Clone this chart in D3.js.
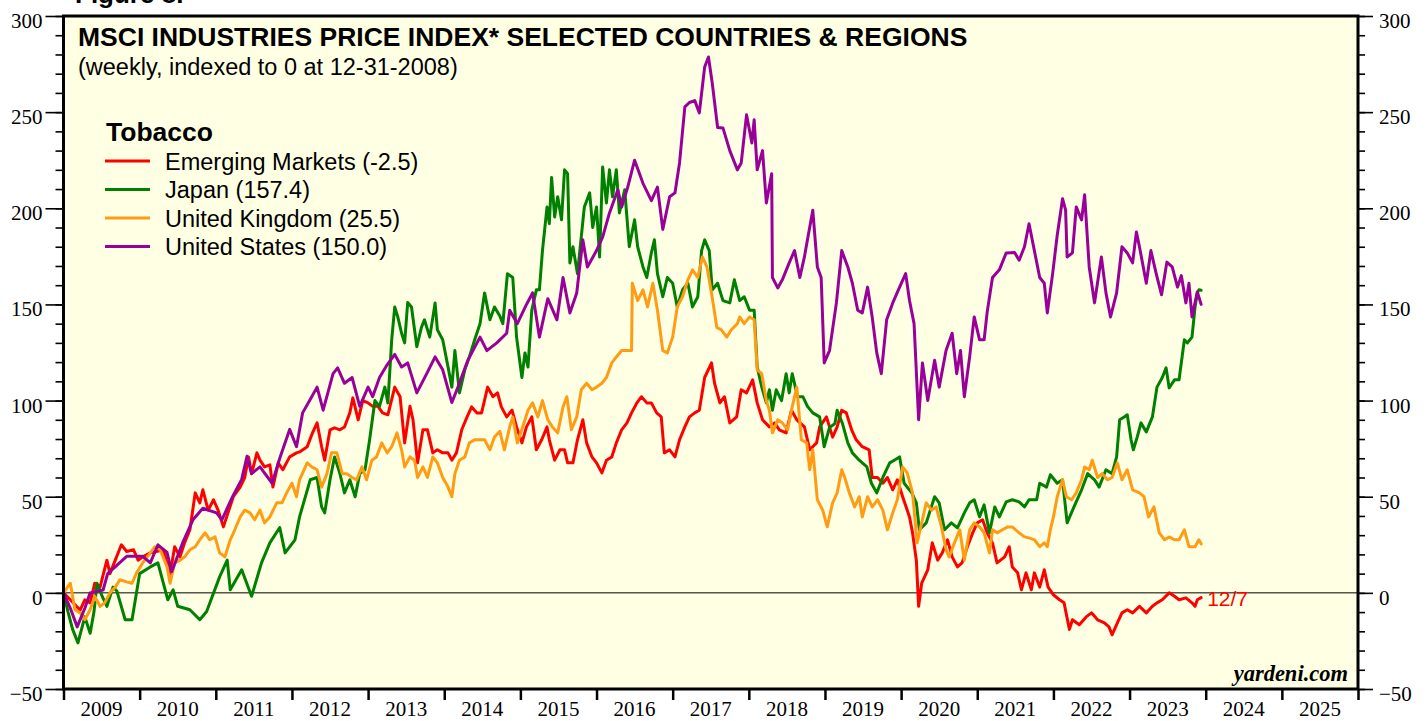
<!DOCTYPE html>
<html><head><meta charset="utf-8">
<script src="https://cdn.jsdelivr.net/npm/d3@7"></script>
<style>html,body{margin:0;padding:0;background:#fff}svg{display:block}</style>
</head><body>
<svg id="chart" width="1427" height="721"></svg>
<script>
// ---------- DATA ----------
const yearLabels = [2009,2010,2011,2012,2013,2014,2015,2016,2017,2018,2019,2020,2021,2022,2023,2024,2025];
const yMajorTicks = [-50,0,50,100,150,200,250,300];
const seriesNames = ["Emerging Markets (-2.5)","Japan (157.4)","United Kingdom (25.5)","United States (150.0)"];
const seriesColors = ["#ff0000","#008000","#ff9c14","#990099"];

const emDates = [2009.00,2009.09,2009.17,2009.22,2009.28,2009.35,2009.41,2009.48,2009.57,2009.61,2009.68,2009.76,2009.83,2009.92,2009.98,2010.04,2010.14,2010.22,2010.31,2010.40,2010.46,2010.53,2010.59,2010.66,2010.73,2010.79,2010.83,2010.90,2010.97,2011.03,2011.10,2011.16,2011.23,2011.32,2011.38,2011.43,2011.47,2011.54,2011.58,2011.64,2011.71,2011.75,2011.82,2011.88,2011.97,2012.06,2012.10,2012.20,2012.27,2012.33,2012.39,2012.43,2012.50,2012.56,2012.63,2012.69,2012.76,2012.80,2012.87,2012.93,2013.00,2013.06,2013.13,2013.19,2013.26,2013.35,2013.42,2013.48,2013.55,2013.59,2013.65,2013.72,2013.78,2013.85,2013.91,2013.98,2014.05,2014.10,2014.16,2014.23,2014.30,2014.36,2014.43,2014.49,2014.57,2014.64,2014.70,2014.75,2014.82,2014.89,2014.95,2015.02,2015.08,2015.15,2015.21,2015.28,2015.35,2015.38,2015.45,2015.52,2015.58,2015.62,2015.69,2015.75,2015.82,2015.87,2015.94,2016.00,2016.07,2016.13,2016.20,2016.26,2016.33,2016.40,2016.46,2016.53,2016.59,2016.66,2016.72,2016.79,2016.85,2016.89,2016.96,2017.03,2017.09,2017.16,2017.22,2017.29,2017.35,2017.42,2017.51,2017.55,2017.62,2017.68,2017.75,2017.84,2017.90,2017.97,2018.05,2018.11,2018.18,2018.27,2018.34,2018.40,2018.49,2018.56,2018.63,2018.73,2018.80,2018.89,2018.93,2019.02,2019.10,2019.16,2019.22,2019.28,2019.35,2019.41,2019.49,2019.58,2019.62,2019.69,2019.76,2019.82,2019.89,2019.95,2020.02,2020.11,2020.15,2020.20,2020.23,2020.27,2020.35,2020.41,2020.48,2020.54,2020.61,2020.67,2020.74,2020.80,2020.87,2020.94,2021.00,2021.07,2021.13,2021.20,2021.26,2021.36,2021.42,2021.46,2021.53,2021.58,2021.64,2021.71,2021.75,2021.82,2021.88,2021.93,2022.00,2022.08,2022.14,2022.21,2022.25,2022.34,2022.43,2022.50,2022.58,2022.67,2022.73,2022.77,2022.84,2022.90,2022.97,2023.04,2023.13,2023.22,2023.30,2023.36,2023.43,2023.52,2023.59,2023.65,2023.74,2023.82,2023.86,2023.89,2023.94];
const emValues = [0,-3.6,-7,-8.8,-3.6,-5.2,5,3,17,10,17,25,21.5,22.4,17,18.7,20.8,21.5,22.4,10,24,18.7,26,32.8,52,46.8,53.6,43,48.4,43,34.3,41.6,50,55,60,70.7,62,72.8,69,65.5,66.6,55,67.6,64,70.7,72.8,73.3,76,83.2,88.4,76,69,84.8,85.8,84.8,86.3,93.6,101.4,90,100,98.8,97,97,93.6,92.6,107,102,78,97,90,67.6,84.8,84.8,72.8,74.4,72.8,72.8,69,72.8,84.8,91.5,96.7,93.6,93.6,107,102,104,96.7,91.5,95,86.3,78,86.3,91.5,74.4,79.6,86.3,79.6,69,74.4,74.4,67.6,67.6,79.6,90,78,70.7,67.6,62.4,69,70.7,78,84.8,88.4,93.6,98.8,102,98.8,98.8,93.6,91.5,72.8,74.4,70.7,79.6,86.3,91.5,93.6,95,112,119.6,109,98.8,102,88.4,91.5,105.6,104,110.8,98.8,90,86.3,88.4,84.8,83.2,95,90,86.3,74.4,78,86.3,91.5,81,86.3,95,93.6,84.8,79.6,76,74.4,60,60,57,60,53.6,58.8,50,39.5,31.2,17,-7,5,12,26,17,20.8,27.6,18.7,13.5,15.6,24,31.2,36.4,38,31.2,26,15.6,18.7,24,13.5,10.4,1.6,10.4,1.6,10.4,3,12,3,-1,-3.6,-5.2,-19,-14,-16.6,-12.5,-10.4,-14,-15.6,-17.7,-21.8,-15.6,-10.4,-8.8,-10.4,-7,-10.4,-7,-5.2,-3.6,0,-1.8,-3.6,-2.6,-5.2,-7,-3.6,-2.5];

const jpDates = [2009.00,2009.06,2009.12,2009.19,2009.28,2009.35,2009.40,2009.44,2009.51,2009.57,2009.65,2009.70,2009.81,2009.90,2010.00,2010.14,2010.24,2010.37,2010.44,2010.50,2010.66,2010.79,2010.88,2011.05,2011.15,2011.19,2011.34,2011.47,2011.60,2011.71,2011.84,2011.91,2012.04,2012.10,2012.24,2012.33,2012.39,2012.43,2012.50,2012.56,2012.63,2012.69,2012.76,2012.83,2012.89,2012.96,2013.02,2013.09,2013.15,2013.22,2013.26,2013.31,2013.35,2013.39,2013.44,2013.48,2013.52,2013.57,2013.64,2013.70,2013.74,2013.81,2013.88,2013.91,2013.98,2014.05,2014.10,2014.14,2014.20,2014.27,2014.33,2014.40,2014.47,2014.53,2014.60,2014.66,2014.73,2014.77,2014.83,2014.90,2014.95,2015.02,2015.06,2015.10,2015.15,2015.21,2015.25,2015.29,2015.35,2015.38,2015.41,2015.45,2015.49,2015.54,2015.58,2015.62,2015.65,2015.69,2015.75,2015.84,2015.91,2015.95,2016.00,2016.04,2016.08,2016.13,2016.17,2016.21,2016.26,2016.30,2016.37,2016.43,2016.50,2016.54,2016.61,2016.66,2016.72,2016.76,2016.80,2016.87,2016.93,2017.00,2017.06,2017.13,2017.20,2017.26,2017.33,2017.38,2017.42,2017.48,2017.52,2017.59,2017.66,2017.75,2017.81,2017.88,2017.94,2018.01,2018.07,2018.11,2018.17,2018.23,2018.27,2018.31,2018.36,2018.43,2018.49,2018.53,2018.57,2018.64,2018.71,2018.77,2018.84,2018.93,2018.99,2019.06,2019.13,2019.16,2019.23,2019.30,2019.36,2019.45,2019.55,2019.61,2019.68,2019.76,2019.85,2019.91,2019.98,2020.04,2020.14,2020.20,2020.24,2020.33,2020.44,2020.50,2020.57,2020.66,2020.74,2020.83,2020.90,2020.96,2021.03,2021.09,2021.16,2021.23,2021.29,2021.38,2021.46,2021.55,2021.62,2021.68,2021.78,2021.82,2021.91,2021.96,2022.05,2022.12,2022.18,2022.27,2022.37,2022.45,2022.54,2022.60,2022.69,2022.77,2022.83,2022.87,2022.93,2022.97,2023.02,2023.05,2023.10,2023.15,2023.22,2023.30,2023.36,2023.43,2023.48,2023.52,2023.59,2023.65,2023.72,2023.76,2023.82,2023.86,2023.89,2023.91,2023.94];
const jpValues = [0,-10,-19,-26,-12.5,-21,-10,5,-2,-7,3,1,-14,-14,10,13.5,15.6,-3.6,1.6,-7,-8.8,-14,-9.7,8.3,17,1.6,12,-1.8,15.6,26,34,20.8,27.6,39.5,58.8,60,44.7,41.6,58.8,70.7,62,52,58.8,50,62,64,79.6,100,97,107,98.8,131.6,148.7,143.5,135,130,151,148.7,128,138,142,133,150.8,136.8,131.6,117.5,107,126,104,116,122.7,131.6,140,156,142,148.7,144,140,166,164,133,112,124.8,117.5,147,157.6,157.6,178,200.7,192,216,195.5,206,194,220,218,171.6,180,166,200.7,208,190,200.7,174.7,221.5,202.8,220,206,220,197.6,209.6,180,194,180,169.5,164,176.8,183.6,166,154,164,161,148.7,157.6,161,148.7,154,178,183.6,178,157.6,161,152,150.8,162.8,152,154,147,147,117.5,107,98.8,105.6,95,105.6,100,114,104,114,102,102,97,93.6,91.5,76,86,88,95,88,78,72.8,69,65.5,57,52,60,67.6,69,70.7,57,52,46.8,32.8,36.4,50,46.8,32.8,36.4,33.8,41.6,46.8,48.4,39.5,45.8,31.2,44.7,39.5,47.3,48.4,47.3,44.7,48.4,48.4,57,55,61.4,57,58.8,36.4,44.7,53.6,62,58.8,55,64,62,70.7,90,91.5,92.6,79.6,74.4,81,88.4,83.7,91.5,107,112,117,106.6,110.8,110.8,131.6,130,133,148.7,156,157.6,157.4];

const ukDates = [2009.00,2009.09,2009.15,2009.22,2009.28,2009.35,2009.41,2009.48,2009.54,2009.61,2009.68,2009.74,2009.83,2009.90,2009.96,2010.04,2010.14,2010.20,2010.27,2010.36,2010.40,2010.46,2010.53,2010.59,2010.66,2010.73,2010.79,2010.86,2010.92,2010.99,2011.05,2011.12,2011.19,2011.25,2011.32,2011.38,2011.45,2011.51,2011.58,2011.64,2011.71,2011.80,2011.87,2011.93,2012.00,2012.06,2012.10,2012.20,2012.26,2012.33,2012.39,2012.46,2012.52,2012.59,2012.66,2012.72,2012.79,2012.85,2012.92,2012.98,2013.05,2013.11,2013.18,2013.25,2013.31,2013.38,2013.44,2013.48,2013.55,2013.61,2013.65,2013.72,2013.78,2013.85,2013.91,2013.98,2014.05,2014.10,2014.14,2014.20,2014.27,2014.33,2014.40,2014.47,2014.53,2014.60,2014.66,2014.73,2014.79,2014.86,2014.90,2014.96,2015.03,2015.10,2015.16,2015.23,2015.29,2015.36,2015.42,2015.49,2015.56,2015.61,2015.67,2015.74,2015.80,2015.87,2015.94,2016.00,2016.07,2016.13,2016.20,2016.26,2016.33,2016.40,2016.46,2016.47,2016.54,2016.61,2016.67,2016.74,2016.80,2016.87,2016.93,2017.00,2017.06,2017.13,2017.20,2017.26,2017.33,2017.39,2017.45,2017.51,2017.58,2017.64,2017.71,2017.77,2017.85,2017.88,2017.94,2018.01,2018.07,2018.11,2018.17,2018.23,2018.27,2018.31,2018.38,2018.44,2018.51,2018.56,2018.63,2018.69,2018.76,2018.80,2018.84,2018.90,2018.97,2019.03,2019.10,2019.16,2019.22,2019.26,2019.32,2019.39,2019.45,2019.49,2019.56,2019.62,2019.69,2019.76,2019.82,2019.89,2019.95,2020.02,2020.08,2020.15,2020.21,2020.27,2020.33,2020.40,2020.46,2020.53,2020.59,2020.63,2020.70,2020.77,2020.83,2020.90,2020.96,2021.03,2021.09,2021.16,2021.20,2021.26,2021.33,2021.40,2021.46,2021.55,2021.62,2021.68,2021.75,2021.82,2021.88,2021.92,2021.96,2022.00,2022.05,2022.12,2022.17,2022.24,2022.30,2022.37,2022.41,2022.47,2022.51,2022.58,2022.64,2022.71,2022.77,2022.84,2022.90,2022.97,2023.04,2023.13,2023.19,2023.25,2023.32,2023.39,2023.46,2023.52,2023.59,2023.65,2023.72,2023.78,2023.86,2023.91,2023.94];
const ukValues = [0,5,-8.8,-10.4,-14,-8.8,-1.8,-7,-5.2,0,3,6.8,5.7,5,10.4,15.6,20.8,24,22.4,13.5,5,15.6,17,18.7,22.4,24,27.6,31.2,27.6,29.1,20.8,18.7,27.6,32.8,39.5,43,41.6,38,43,36.4,39.5,46.8,46.8,52,57,50,58.8,67.6,65.5,64,55,62,72.8,72.8,62,62,60,58.8,65.5,58.8,69,70.7,78,72.8,76,83.2,74.4,65.5,70.7,69,60,65.5,60,70.7,67.6,60,55,50,62,69,70.7,78,79.6,79.6,79.6,74.4,81,84,74.4,86.3,91.5,78,86.3,95,98.8,91.5,100,90,86.3,83.2,96.7,102,84.8,91.5,105.6,109,105.6,107,109,112,119.6,122.7,126,126,126,161,152,157.6,148.7,161,147,126,124.8,133,148.7,154,162.8,168,164,174.7,169.5,156,138,136.8,133,136.8,140,143.5,140,143.5,142,116,114,100,95,83.2,90,88.4,84.8,95,107,79.6,78,64,74.4,48.4,43,34.3,46.8,52,64,60,52,44.7,50,39.5,50,44.7,48.4,43,32.8,41.6,48.4,65.5,62.4,52,26,36.4,46.8,43,44.7,34.3,22.4,18.7,26,32.8,17,32.8,36.4,34.3,31.2,20.8,32.8,31.2,32.8,34.3,34.3,31.2,29.1,28.6,27.6,24,26,24,32.8,39.5,50,58.8,50,48.4,52,58.8,65.5,64,69,60,62,58.8,60,67.6,58.8,64,53.6,52,50,39.5,44.7,31.2,27.6,29.1,27.6,27.6,32.8,24,24,27.6,25.5];

const usDates = [2009.00,2009.09,2009.18,2009.28,2009.35,2009.52,2009.58,2009.83,2010.04,2010.14,2010.24,2010.36,2010.42,2010.57,2010.70,2010.83,2011.01,2011.08,2011.22,2011.34,2011.41,2011.47,2011.58,2011.74,2011.84,2011.97,2012.06,2012.14,2012.26,2012.33,2012.41,2012.54,2012.60,2012.69,2012.79,2012.89,2013.00,2013.06,2013.15,2013.25,2013.35,2013.44,2013.52,2013.64,2013.77,2013.88,2013.98,2014.10,2014.18,2014.31,2014.47,2014.56,2014.69,2014.82,2014.86,2014.96,2015.08,2015.16,2015.25,2015.36,2015.48,2015.56,2015.65,2015.74,2015.82,2015.88,2016.00,2016.08,2016.17,2016.28,2016.33,2016.41,2016.50,2016.61,2016.72,2016.80,2016.87,2016.96,2017.03,2017.09,2017.16,2017.22,2017.29,2017.35,2017.42,2017.47,2017.52,2017.59,2017.66,2017.75,2017.85,2017.90,2017.97,2018.04,2018.07,2018.11,2018.18,2018.23,2018.30,2018.31,2018.38,2018.44,2018.53,2018.60,2018.67,2018.73,2018.77,2018.84,2018.90,2018.95,2018.99,2019.06,2019.15,2019.22,2019.30,2019.36,2019.43,2019.49,2019.56,2019.62,2019.68,2019.74,2019.81,2019.89,2019.98,2020.06,2020.11,2020.17,2020.23,2020.28,2020.35,2020.44,2020.50,2020.59,2020.67,2020.73,2020.78,2020.83,2020.90,2020.96,2021.03,2021.09,2021.13,2021.20,2021.29,2021.38,2021.49,2021.55,2021.62,2021.68,2021.75,2021.82,2021.88,2021.92,2021.99,2022.05,2022.12,2022.16,2022.18,2022.25,2022.30,2022.37,2022.41,2022.47,2022.54,2022.63,2022.69,2022.75,2022.83,2022.90,2022.97,2023.04,2023.09,2023.13,2023.22,2023.28,2023.35,2023.42,2023.49,2023.56,2023.63,2023.68,2023.74,2023.78,2023.82,2023.89,2023.94];
const usValues = [0,-8,-17.7,-8,0,1.5,10,19,19,15.6,25,21,11,26.5,38,44,41.6,38,50,59,71,62,65.5,57,70,85,76,93.6,102,107,95,114,117,109,112,97,107,102,112,118.6,124,117.5,119.6,104,114,122.7,116,99,107,121,133,126,130,135,147,140,150,156,133,153,142,164,145.6,156,183.6,169.5,178,185,197.6,209.6,200.7,211,225,213,204,211,189,206,208,223.6,252.7,255,256,249.6,273.5,278.7,265,242,241.8,230,220,223.6,248.6,234,246,220,230,202.8,218,164,158.6,162.8,171.6,178,164,174.7,183.6,199,169.5,164,119.6,126,150.8,178,169.5,161,147,145.6,159,143.5,124.8,114,142,150.8,159,166,152,140,90,119.6,100,121,107,126,135,114,126,102,122.7,143.5,131.6,131.6,146,164,168,176.8,177,173,180,192,178,164,161,145.6,166,186,205,199,174.7,176.8,200.7,194,207,169.5,150.8,174.7,156,143.5,156,180,176.8,171.6,187.7,180,161,178,166,155,172,169.5,159,165,150.8,161,143.5,156.5,150];

const lastDateLabel = "12/7";

// ---------- CHART ----------
const svg = d3.select("#chart");
const L = 63.5, R = 1358, T = 16, B = 689;
const x = d3.scaleLinear().domain([2009, 2026]).range([L, R]);
const y = d3.scaleLinear().domain([-50, 300]).range([B, T]);

const SANS = "'Liberation Sans', Arial, sans-serif";
const SERIF = "'Liberation Serif', 'Times New Roman', serif";

// plot background
svg.append("rect").attr("x", L).attr("y", T).attr("width", R - L).attr("height", B - T).attr("fill", "#ffffe3");

svg.append("defs").append("clipPath").attr("id", "clip")
  .append("rect").attr("x", L).attr("y", T).attr("width", R - L).attr("height", B - T);

// zero line
svg.append("line").attr("x1", L).attr("x2", R).attr("y1", y(0)).attr("y2", y(0))
  .attr("stroke", "#000").attr("stroke-width", 1);

// series
const allSeries = [
  {dates: emDates, values: emValues},
  {dates: jpDates, values: jpValues},
  {dates: ukDates, values: ukValues},
  {dates: usDates, values: usValues}
];
const line = d3.line().x(d => x(d[0])).y(d => y(d[1])).curve(d3.curveLinear);
const g = svg.append("g").attr("clip-path", "url(#clip)");
allSeries.forEach((s, i) => {
  const pts = s.dates.map((d, k) => [d, s.values[k]]);
  g.append("path").datum(pts).attr("d", line)
    .attr("fill", "none").attr("stroke", seriesColors[i])
    .attr("stroke-width", 3).attr("stroke-linejoin", "round").attr("stroke-linecap", "round");
});

// end label
svg.append("text").attr("x", x(emDates[emDates.length - 1]) + 6).attr("y", y(emValues[emValues.length - 1]) + 8)
  .attr("font-family", SANS).attr("font-size", 21).attr("fill", "#ff0000").text(lastDateLabel);

// border
svg.append("rect").attr("x", L).attr("y", T).attr("width", R - L).attr("height", B - T)
  .attr("fill", "none").attr("stroke", "#000").attr("stroke-width", 3);

// y axes
const minorVals = d3.range(-50, 301, 10);
function styleAxis(sel) {
  sel.select(".domain").remove();
  sel.selectAll("line").attr("stroke", "#000").attr("stroke-width", 1.6);
  sel.selectAll("text").attr("font-family", SERIF).attr("font-size", 21).attr("fill", "#000");
}
svg.append("g").attr("transform", `translate(${L},0)`)
  .call(d3.axisLeft(y).tickValues(minorVals).tickSize(8).tickFormat("")).call(styleAxis);
svg.append("g").attr("transform", `translate(${L},0)`)
  .call(d3.axisLeft(y).tickValues(yMajorTicks).tickSize(18).tickPadding(3)).call(styleAxis)
  .selectAll("text").attr("dy", "0.55em");
svg.append("g").attr("transform", `translate(${R},0)`)
  .call(d3.axisRight(y).tickValues(minorVals).tickSize(7).tickFormat("")).call(styleAxis);
svg.append("g").attr("transform", `translate(${R},0)`)
  .call(d3.axisRight(y).tickValues(yMajorTicks).tickSize(15).tickPadding(6)).call(styleAxis)
  .selectAll("text").attr("dy", "0.55em");

// x axis
svg.append("g").attr("transform", `translate(0,${B})`)
  .call(d3.axisBottom(x).tickValues(d3.range(2009, 2027)).tickSize(11).tickFormat(""))
  .call(sel => { sel.select(".domain").remove(); sel.selectAll("line").attr("stroke", "#000").attr("stroke-width", 2.5); });
svg.append("g").selectAll("text").data(yearLabels).join("text")
  .attr("x", d => x(d + 0.5)).attr("y", 716).attr("text-anchor", "middle")
  .attr("font-family", SERIF).attr("font-size", 21).attr("fill", "#000").text(d => d);

// titles
svg.append("text").attr("x", 75).attr("y", 3).attr("font-family", SANS).attr("font-weight", "bold")
  .attr("font-size", 26).text("Figure 8.");
svg.append("text").attr("x", 78).attr("y", 46).attr("font-family", SANS).attr("font-weight", "bold")
  .attr("font-size", 26.5).text("MSCI INDUSTRIES PRICE INDEX* SELECTED COUNTRIES & REGIONS");
svg.append("text").attr("x", 78).attr("y", 75).attr("font-family", SANS)
  .attr("font-size", 23.5).text("(weekly, indexed to 0 at 12-31-2008)");

// legend
svg.append("text").attr("x", 106).attr("y", 141).attr("font-family", SANS).attr("font-weight", "bold")
  .attr("font-size", 26.5).text("Tobacco");
const leg = svg.append("g");
seriesNames.forEach((n, i) => {
  const yy = 161 + i * 28.5;
  leg.append("line").attr("x1", 105).attr("x2", 150).attr("y1", yy).attr("y2", yy)
    .attr("stroke", seriesColors[i]).attr("stroke-width", 3);
  leg.append("text").attr("x", 165).attr("y", yy + 8.5).attr("font-family", SANS)
    .attr("font-size", 23.5).text(n);
});

// source
svg.append("text").attr("x", 1348).attr("y", 681).attr("text-anchor", "end")
  .attr("font-family", SERIF).attr("font-weight", "bold").attr("font-style", "italic")
  .attr("font-size", 22.5).text("yardeni.com");
</script>
</body></html>
